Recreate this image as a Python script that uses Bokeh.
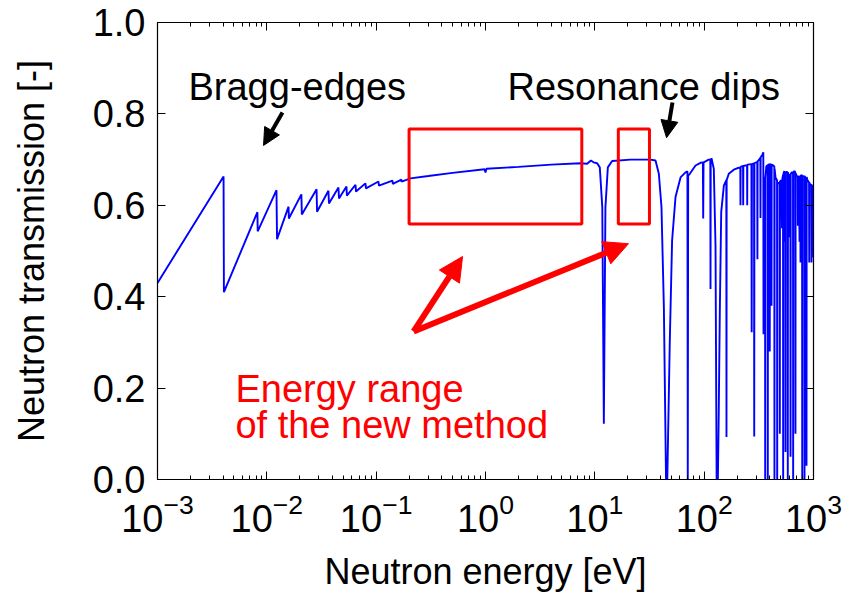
from bokeh.plotting import figure
from bokeh.models import (LinearAxis, LogAxis, Range1d, Arrow, NormalHead, Label,
                          FixedTicker, PrintfTickFormatter, CustomJSTickFormatter, ColumnDataSource)
from bokeh.embed import file_html
from bokeh.resources import INLINE

# ---------------- data ----------------
# Bragg-edge region (eV, transmission)
bragg_energy = [1.0e-3, 4.02e-3, 4.05e-3, 8.2e-3, 8.25e-3, 1.225e-2, 1.24e-2, 1.58e-2, 1.59e-2,
                2.07e-2, 2.09e-2, 2.85e-2, 2.88e-2, 3.66e-2, 3.70e-2, 4.52e-2, 4.57e-2, 5.35e-2,
                5.40e-2, 6.47e-2, 6.54e-2, 7.98e-2, 8.07e-2, 0.105, 0.106, 0.141, 0.142, 0.170,
                0.171, 0.206, 0.30, 0.50, 0.98, 1.0, 1.02, 2.0, 4.0, 7.4, 8.5, 9.2, 9.73]
bragg_trans = [0.43, 0.663, 0.41, 0.585, 0.543, 0.633, 0.526, 0.597, 0.571,
               0.624, 0.580, 0.635, 0.586, 0.632, 0.604, 0.639, 0.615, 0.641,
               0.621, 0.645, 0.630, 0.648, 0.637, 0.652, 0.643, 0.654, 0.647, 0.656,
               0.652, 0.659, 0.664, 0.671, 0.679, 0.672, 0.680, 0.684, 0.689, 0.692, 0.691, 0.698, 0.694]

# first resonances and plateau
res1_energy = [10.5, 11.1, 11.7, 12.09, 12.5, 13.15, 14.4, 21.2, 32.3,
               35.9, 38.5, 40.7, 42.8, 44.8, 46.0, 48.5, 50.9, 54.7, 60.8, 67.5]
res1_trans = [0.692, 0.683, 0.596, 0.122, 0.596, 0.683, 0.697, 0.700, 0.700,
              0.698, 0.669, 0.596, 0.377, 0.0, 0.0, 0.304, 0.523, 0.618, 0.661, 0.672]

res2_energy = [70.3, 70.8, 71.4, 73.9, 83.4, 92.6, 97.3, 98.0, 98.7, 102.8, 110.0, 113.8, 114.3,
               114.8, 116.7, 122.5, 127.0, 130.0, 133.5, 136.0, 139.0, 143.2, 151.4, 159.4, 160.0,
               160.6, 168.0, 186.6, 200.0]
res2_trans = [0.674, 0.0, 0.665, 0.669, 0.687, 0.693, 0.694, 0.571, 0.694, 0.696, 0.700, 0.700, 0.417,
              0.698, 0.703, 0.680, 0.512, 0.0, 0.0, 0.15, 0.366, 0.585, 0.643, 0.655, 0.093,
              0.655, 0.669, 0.678, 0.681]

res3_energy = [214.0, 214.8, 215.6, 226.7, 227.5, 228.3, 246.8, 247.6, 248.4, 270.5, 272.0, 273.5,
               285.8, 287.0, 288.2, 305.8, 307.0, 308.2, 326.5, 327.5, 328.5, 340.0, 347.5, 349.0,
               350.5, 352.5, 360.4, 361.6, 362.8, 370.0, 380.7, 382.0, 383.3, 396.6, 398.0, 399.4,
               411.6, 413.0, 414.4, 425.0, 438.0, 439.5, 441.0, 450.0, 464.0, 465.6, 467.2, 480.0,
               490.3, 492.0, 493.7, 510.0, 515.0, 520.0, 526.2, 528.0, 529.8, 540.0, 545.0, 550.0,
               552.7, 554.6, 556.5, 568.0, 580.0, 582.0, 584.0, 600.0, 605.0, 610.0, 614.5, 616.6,
               618.7, 630.0, 649.4, 651.6, 653.8, 668.0, 681.7, 684.0, 686.3, 700.0, 717.0, 719.5,
               722.0, 735.0, 745.0, 750.0, 757.7, 760.3, 762.9, 786.1, 788.8, 791.5, 800.0, 825.0,
               827.9, 830.8, 845.0, 850.0, 855.0, 860.0, 863.0, 866.0, 880.0, 910.8, 914.0, 917.2,
               930.0, 955.6, 959.0, 962.4, 980.0, 990.0, 1000.0]
res3_trans = [0.683, 0.600, 0.684, 0.686, 0.600, 0.686, 0.688, 0.600, 0.689, 0.690, 0.322, 0.690,
              0.692, 0.094, 0.692, 0.695, 0.482, 0.696, 0.703, 0.572, 0.705, 0.710, 0.716, 0.318,
              0.620, 0.660, 0.660, 0.0, 0.660, 0.685, 0.688, 0.0, 0.688, 0.690, 0.280, 0.690,
              0.689, 0.380, 0.689, 0.688, 0.685, 0.0, 0.680, 0.660, 0.655, 0.0, 0.650, 0.648,
              0.650, 0.100, 0.652, 0.655, 0.550, 0.660, 0.665, 0.0, 0.668, 0.675, 0.520, 0.672,
              0.672, 0.060, 0.672, 0.673, 0.672, 0.0, 0.672, 0.660, 0.530, 0.665, 0.668, 0.050,
              0.668, 0.672, 0.672, 0.0, 0.672, 0.675, 0.672, 0.100, 0.670, 0.665, 0.662, 0.555,
              0.662, 0.664, 0.520, 0.660, 0.665, 0.475, 0.665, 0.666, 0.0, 0.665, 0.664, 0.663,
              0.0, 0.664, 0.660, 0.520, 0.660, 0.662, 0.030, 0.662, 0.655, 0.650, 0.475, 0.650,
              0.645, 0.645, 0.475, 0.645, 0.640, 0.600, 0.486]

# red boxes: energy range of the new method
box_left = [0.2, 16.4]
box_right = [7.6, 31.6]
box_bottom = [0.559, 0.559]
box_top = [0.767, 0.767]

x_major_ticks = [1e-3, 1e-2, 1e-1, 1e0, 1e1, 1e2, 1e3]
y_major_ticks = [0.0, 0.2, 0.4, 0.6, 0.8, 1.0]

energy = bragg_energy + res1_energy + res2_energy + res3_energy
trans = bragg_trans + res1_trans + res2_trans + res3_trans
assert len(energy) == len(trans)

FONT = "Liberation Sans"

p = figure(width=845, height=594, x_axis_type="log",
           x_range=Range1d(1e-3, 1e3), y_range=Range1d(0, 1),
           output_backend="svg", toolbar_location=None,
           min_border_left=157, min_border_right=32, min_border_top=22, min_border_bottom=115)
p.grid.visible = False
p.outline_line_color = "black"
p.outline_line_width = 1.2
p.background_fill_color = "white"
p.border_fill_color = "white"

minor = [m * d for d in x_major_ticks[:-1] for m in range(2, 10)]

def style_axis(ax):
    ax.axis_line_color = "black"
    ax.major_tick_line_color = "black"
    ax.minor_tick_line_color = "black"
    ax.major_tick_in = 8
    ax.major_tick_out = 0
    ax.minor_tick_in = 4
    ax.minor_tick_out = 0
    ax.major_label_text_font = FONT
    ax.major_label_text_font_size = "38px"
    ax.major_label_text_color = "black"
    ax.axis_label_text_font = FONT
    ax.axis_label_text_font_style = "normal"
    ax.axis_label_text_font_size = "36px"
    ax.axis_label_text_color = "black"

xa = p.xaxis[0]
style_axis(xa)
xa.ticker = FixedTicker(ticks=x_major_ticks, minor_ticks=minor)
xa.axis_label = "Neutron energy [eV]"
xa.major_label_standoff = 13
xa.axis_label_standoff = 16

ya = p.yaxis[0]
style_axis(ya)
ya.ticker = FixedTicker(ticks=y_major_ticks)
ya.formatter = PrintfTickFormatter(format="%.1f")
ya.minor_tick_line_color = None
ya.axis_label = "Neutron transmission [-]"
ya.major_label_standoff = 12
ya.axis_label_standoff = 38

empty = CustomJSTickFormatter(code="return ''")
top = LogAxis(ticker=FixedTicker(ticks=x_major_ticks, minor_ticks=minor), formatter=empty)
style_axis(top)
top.major_label_text_font_size = "1px"
top.major_label_standoff = 0
p.add_layout(top, "above")
right = LinearAxis(ticker=FixedTicker(ticks=y_major_ticks), formatter=empty)
style_axis(right)
right.minor_tick_line_color = None
right.major_label_text_font_size = "1px"
right.major_label_standoff = 0
p.add_layout(right, "right")

src = ColumnDataSource(dict(energy=energy, trans=trans))
p.line("energy", "trans", source=src, line_color="#0000FF", line_width=1.9)

p.quad(left=box_left, right=box_right, bottom=box_bottom, top=box_top,
       fill_color=None, line_color="#FF0000", line_width=3)

# arrows
p.add_layout(Arrow(x_start=0.22, y_start=0.324, x_end=0.617, y_end=0.488,
                   line_color="#FF0000", line_width=6,
                   end=NormalHead(size=24, fill_color="#FF0000", line_color="#FF0000")))
p.add_layout(Arrow(x_start=0.22, y_start=0.324, x_end=20.3, y_end=0.516,
                   line_color="#FF0000", line_width=6,
                   end=NormalHead(size=24, fill_color="#FF0000", line_color="#FF0000")))
p.add_layout(Arrow(x_start=0.0139, y_start=0.803, x_end=0.00933, y_end=0.731,
                   line_color="black", line_width=4,
                   end=NormalHead(size=17, fill_color="black", line_color="black")))
p.add_layout(Arrow(x_start=51.3, y_start=0.825, x_end=45.3, y_end=0.748,
                   line_color="black", line_width=4,
                   end=NormalHead(size=17, fill_color="black", line_color="black")))

def lab(x, y, text, color="black"):
    p.add_layout(Label(x=x, y=y, text=text, text_font=FONT, text_font_size="38px",
                       text_color=color, text_baseline="alphabetic", text_align="left"))

lab(1.92e-3, 0.858, "Bragg-edges")
lab(1.59, 0.858, "Resonance dips")
lab(5.16e-3, 0.199, "Energy range", "#FF0000")
lab(5.16e-3, 0.120, "of the new method", "#FF0000")

open("out.html", "w").write(file_html(p, INLINE))
